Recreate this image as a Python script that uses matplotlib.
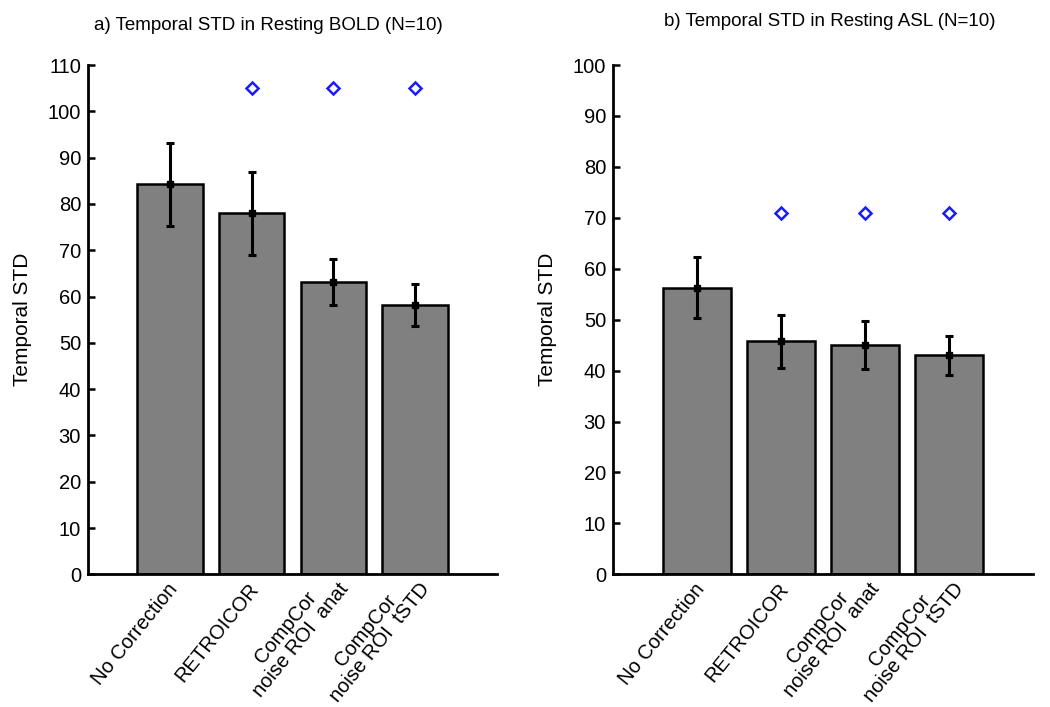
import matplotlib
matplotlib.use("Agg")
import matplotlib.pyplot as plt
import matplotlib.transforms as mtransforms
import numpy as np

plt.rcParams['font.family'] = ['Liberation Sans', 'DejaVu Sans']

# Correction methods
methods = ["No Correction", "RETROICOR", "CompCor\nnoise ROI  anat", "CompCor\nnoise ROI  tSTD"]

# Panel a) resting BOLD
bold_mean = [84.2, 78.0, 63.1, 58.2]
bold_err = [8.9, 9.0, 5.0, 4.6]
bold_sig_idx = [1, 2, 3]
bold_sig_y = [105, 105, 105]

# Panel b) resting ASL
asl_mean = [56.3, 45.8, 45.0, 43.0]
asl_err = [6.0, 5.2, 4.7, 3.8]
asl_sig_idx = [1, 2, 3]
asl_sig_y = [71, 71, 71]

titles = ["a) Temporal STD in Resting BOLD (N=10)", "b) Temporal STD in Resting ASL (N=10)"]
ylims = [110, 100]

fig = plt.figure(figsize=(10.5, 7.07), dpi=100)
ax_a = fig.add_axes([0.0838, 0.1877, 0.3895, 0.7203])
ax_b = fig.add_axes([0.5838, 0.1877, 0.4000, 0.7203])

panels = [
    (ax_a, bold_mean, bold_err, bold_sig_idx, bold_sig_y),
    (ax_b, asl_mean, asl_err, asl_sig_idx, asl_sig_y),
]

for k, (ax, means, errs, sig_idx, sig_y) in enumerate(panels):
    x = np.arange(1, len(means) + 1)
    ax.bar(x, means, width=0.8, color="#808080", edgecolor="black", linewidth=1.8, zorder=2)
    ax.errorbar(x, means, yerr=errs, fmt="s", color="black", markersize=5,
                elinewidth=2.2, capsize=3, capthick=2.2, zorder=3)
    ax.plot(x[sig_idx], sig_y, linestyle="none", marker="D", markersize=6,
            markerfacecolor="white", markeredgecolor="#1a1aff", markeredgewidth=1.8, zorder=4)

    ax.set_xlim(0, 5)
    ax.set_ylim(0, ylims[k])
    ax.set_yticks(np.arange(0, ylims[k] + 1, 10))
    ax.tick_params(axis="y", direction="in", length=5, width=1.8, labelsize=14.5, pad=5)
    ax.tick_params(axis="x", length=0, pad=8)
    ax.set_xticks(x)
    ax.set_xticklabels(methods, rotation=51, ha="right", va="center",
                       rotation_mode="anchor", fontsize=14.5, multialignment="center",
                       linespacing=1.0)
    for lab in ax.get_xticklabels():
        dy = 6 if "\n" in lab.get_text() else 0
        shift = mtransforms.ScaledTranslation(4 / 100, dy / 100, fig.dpi_scale_trans)
        lab.set_transform(lab.get_transform() + shift)
    for s in ["top", "right"]:
        ax.spines[s].set_visible(False)
    for s in ["left", "bottom"]:
        ax.spines[s].set_linewidth(2.0)
    ax.set_ylabel("Temporal STD", fontsize=15)

ax_a.yaxis.set_label_coords(-0.137, 0.5)
ax_b.yaxis.set_label_coords(-0.133, 0.5)

fig.text(268 / 1050, 1 - 26 / 707, titles[0], ha="center", va="center", fontsize=13.5)
fig.text(830 / 1050, 1 - 22 / 707, titles[1], ha="center", va="center", fontsize=13.5)

fig.savefig("out.png", dpi=100)
